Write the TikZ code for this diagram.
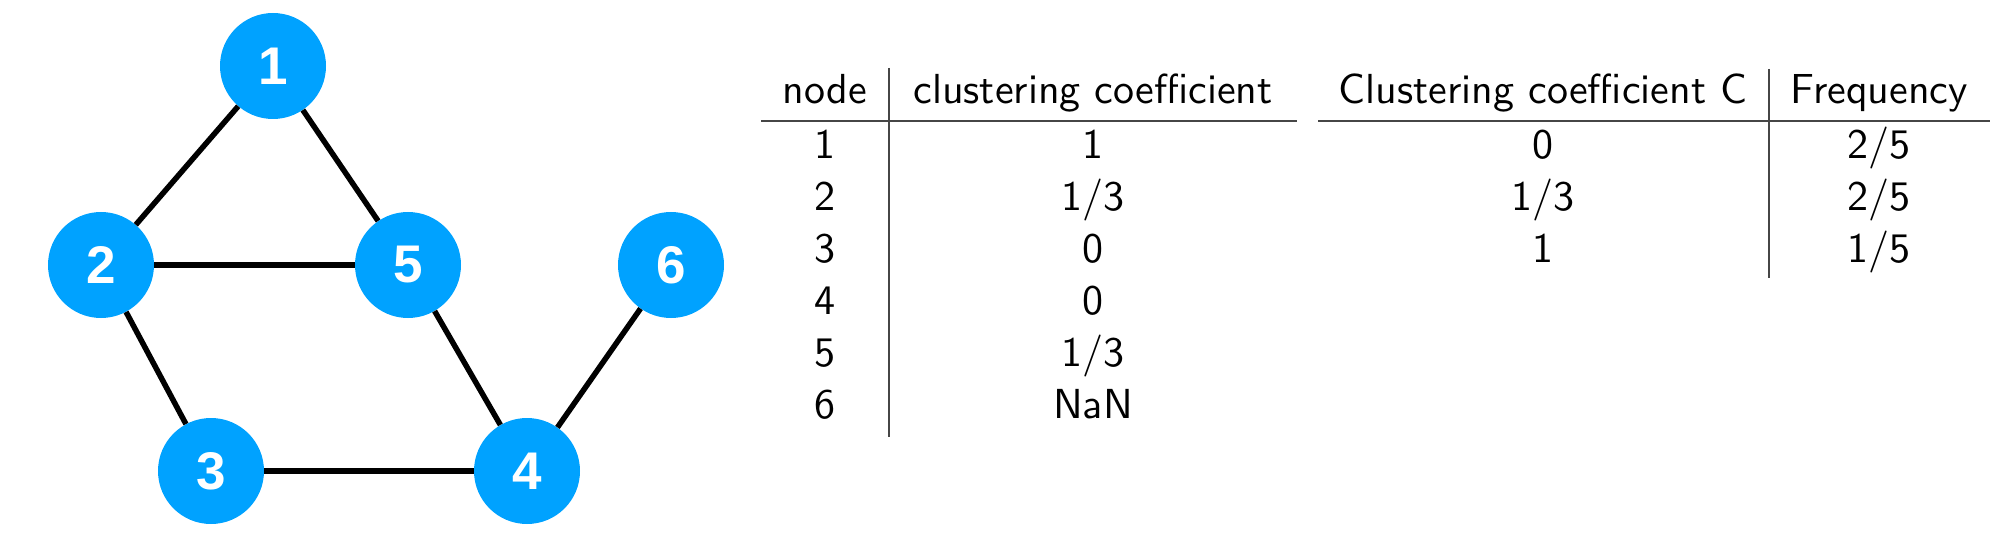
\documentclass[tikz,border=0pt]{standalone}
\usepackage{fontspec}
\newfontfamily\labfont{Liberation Sans}
\definecolor{nodeblue}{RGB}{0,162,255}
\definecolor{rulegray}{RGB}{70,70,70}
\tikzset{
  gnode/.style={circle, fill=nodeblue, draw=none, minimum size=106pt, inner sep=0pt,
    text=white, font=\labfont\bfseries\fontsize{53}{60}\selectfont},
  gedge/.style={line width=5.5pt, black},
  tabtxt/.style={anchor=base, inner sep=0pt, scale=4.2, font=\sffamily},
  tabrule/.style={line width=1.6pt, rulegray}
}
\begin{document}
\begin{tikzpicture}[x=1pt,y=-1pt]
\useasboundingbox (0,0) rectangle (2014,540);
% graph
\node[gnode] (n1) at (273,66) {1};
\node[gnode] (n2) at (101,265) {2};
\node[gnode] (n5) at (408,265) {5};
\node[gnode] (n6) at (671,265) {6};
\node[gnode] (n3) at (211,471) {3};
\node[gnode] (n4) at (527,471) {4};
\draw[gedge] (n1) -- (n2);
\draw[gedge] (n1) -- (n5);
\draw[gedge] (n2) -- (n5);
\draw[gedge] (n2) -- (n3);
\draw[gedge] (n3) -- (n4);
\draw[gedge] (n5) -- (n4);
\draw[gedge] (n6) -- (n4);
% table 1
\node[tabtxt] (h1) at (825,104) {node};
\node[tabtxt] (h2) at (1093,104) {clustering coefficient};
\foreach \i/\a/\b [count=\k from 0] in {1/1/1, 2/2/{1/3}, 3/3/0, 4/4/0, 5/5/{1/3}, 6/6/NaN}{
  \node[tabtxt] (ra\i) at (825,159+51.8*\k) {\a};
  \node[tabtxt] (rb\i) at (1093,159+51.8*\k) {\b};
}
\draw[tabrule] (761,121) -- (1297,121);
\draw[tabrule] (889,68) -- (889,437);
% table 2
\node[tabtxt] (g1) at (1543,104) {Clustering coefficient C};
\node[tabtxt] (g2) at (1879,104) {Frequency};
\foreach \a/\b [count=\k from 0] in {0/{2/5}, {1/3}/{2/5}, 1/{1/5}}{
  \node[tabtxt] at (1543,159+51.8*\k) {\a};
  \node[tabtxt] at (1879,159+51.8*\k) {\b};
}
\draw[tabrule] (1318,121) -- (1990,121);
\draw[tabrule] (1769,69) -- (1769,278);
\end{tikzpicture}
\end{document}
